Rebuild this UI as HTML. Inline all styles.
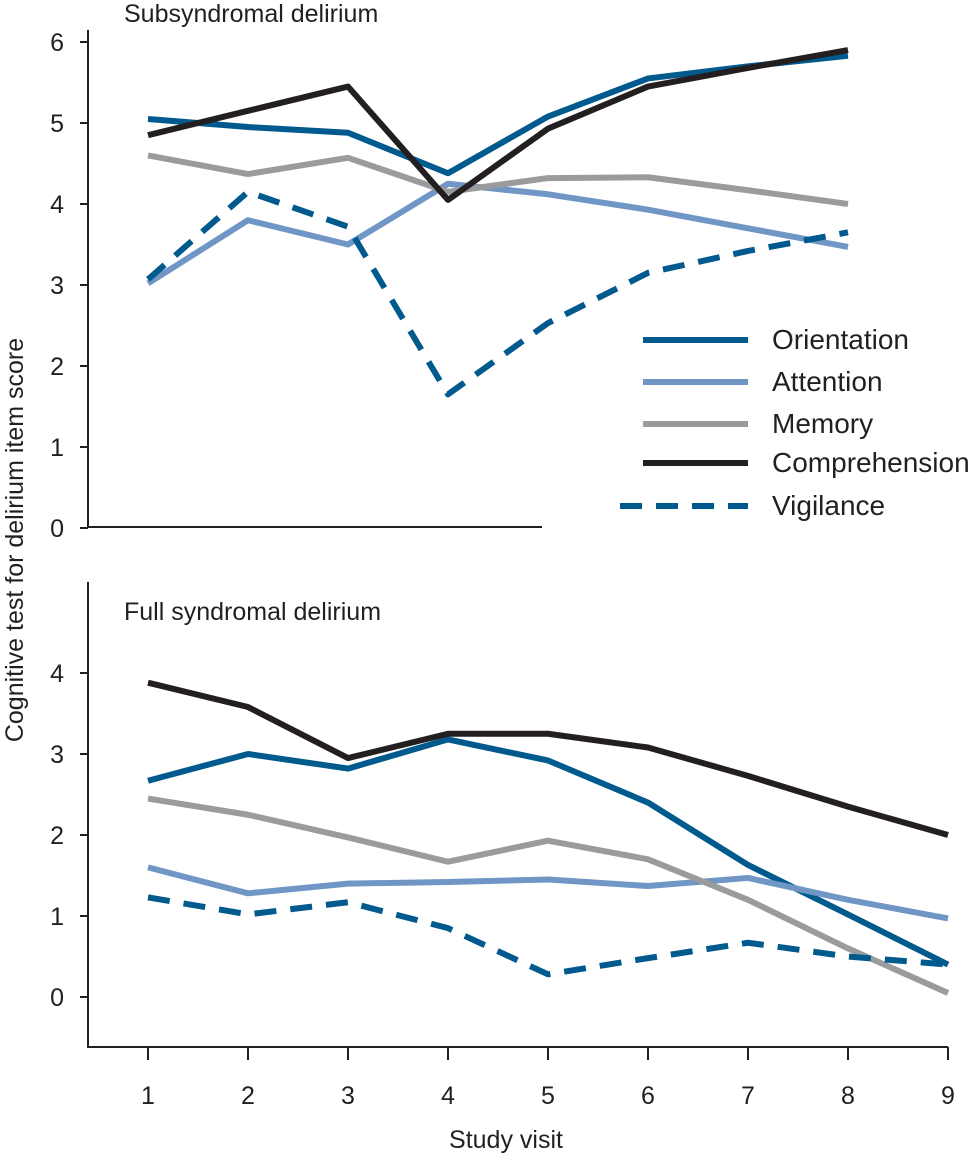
<!DOCTYPE html>
<html><head><meta charset="utf-8"><style>
body{margin:0;background:#fff}
svg{display:block}
text{font-family:"Liberation Sans",sans-serif;fill:#231f20}
</style></head><body>
<svg id="chart" width="970" height="1157"></svg>
<script>
const visits=[1,2,3,4,5,6,7,8,9];
const seriesNames=["Orientation","Attention","Memory","Comprehension","Vigilance"];
const subOrientation=[5.05,4.95,4.88,4.38,5.08,5.55,5.7,5.83];
const subAttention=[3.02,3.8,3.5,4.25,4.12,3.93,3.7,3.47];
const subMemory=[4.6,4.37,4.57,4.15,4.32,4.33,4.17,4.0];
const subComprehension=[4.85,5.15,5.45,4.05,4.93,5.45,5.68,5.9];
const subVigilance=[3.07,4.15,3.72,1.65,2.53,3.15,3.42,3.65];
const fullOrientation=[2.67,3.0,2.82,3.18,2.92,2.4,1.63,1.02,0.4];
const fullAttention=[1.6,1.28,1.4,1.42,1.45,1.37,1.47,1.2,0.97];
const fullMemory=[2.45,2.25,1.97,1.67,1.93,1.7,1.2,0.6,0.05];
const fullComprehension=[3.88,3.58,2.95,3.25,3.25,3.08,2.73,2.35,2.0];
const fullVigilance=[1.23,1.02,1.17,0.85,0.28,0.48,0.67,0.5,0.4];
const subTicks=[0,1,2,3,4,5,6];
const fullTicks=[0,1,2,3,4];

const NS="http://www.w3.org/2000/svg";
const svg=document.getElementById('chart');
const styles=[{c:"#005a8e",d:null},{c:"#7096c6",d:null},{c:"#9a9b9d",d:null},{c:"#231f20",d:null},{c:"#005a8e",d:"22 14"}];
function mk(t,a,p){const e=document.createElementNS(NS,t);for(const k in a)e.setAttribute(k,a[k]);(p||svg).appendChild(e);return e;}
const xs=v=>148+(v-1)*100;
const ySub=v=>528-81*v;
const yFull=v=>997-81*v;

function panel(name,yf,ticks,top,bottom,right,data,title,titleY){
  const g=mk('g',{});
  
  
  const ax=mk('path',{d:`M88 ${top}V${bottom}H${right}`,stroke:'#231f20','stroke-width':2,fill:'none'},g);
  
  
  ticks.forEach(t=>{
    const y=yf(t);
    const tk=mk('line',{x1:80,x2:88,y1:y,y2:y,stroke:'#231f20','stroke-width':2},g);
    
    
    const tl=mk('text',{x:64,y:y+9,'text-anchor':'end','font-size':25},g);
    tl.textContent=t;
    
    
  });
  const tt=mk('text',{x:124,y:titleY,'font-size':25},g);
  tt.textContent=title;
  
  
  data.forEach((arr,i)=>{
    const pts=arr.map((v,j)=>xs(visits[j])+','+yf(v)).join(' ');
    const a={points:pts,fill:'none',stroke:styles[i].c,'stroke-width':6,'stroke-linejoin':'round'};
    if(styles[i].d)a['stroke-dasharray']=styles[i].d;
    const pl=mk('polyline',a,g);
    
    
  });
}
panel('subsyndromal-panel',ySub,subTicks,30,527,542,[subOrientation,subAttention,subMemory,subComprehension,subVigilance],'Subsyndromal delirium',22);
panel('full-syndromal-panel',yFull,fullTicks,582,1047,948,[fullOrientation,fullAttention,fullMemory,fullComprehension,fullVigilance],'Full syndromal delirium',620);

visits.forEach(v=>{
  const tk=mk('line',{x1:xs(v),x2:xs(v),y1:1047,y2:1060,stroke:'#231f20','stroke-width':2});
  
  
  const tl=mk('text',{x:xs(v),y:1104,'text-anchor':'middle','font-size':25});
  tl.textContent=v;
  
  
});
const xt=mk('text',{x:506,y:1148,'text-anchor':'middle','font-size':25});
xt.textContent='Study visit';


const yt=mk('text',{x:0,y:0,'text-anchor':'middle','font-size':25,transform:'translate(23,540) rotate(-90)'});
yt.textContent='Cognitive test for delirium item score';



const legY=[340,382,424,463,506];
const lg=mk('g',{});


seriesNames.forEach((n,i)=>{
  const a={x1:i==4?620:643,x2:748,y1:legY[i],y2:legY[i],stroke:styles[i].c,'stroke-width':6};
  if(styles[i].d)a['stroke-dasharray']=styles[i].d;
  const l=mk('line',a,lg);
  
  
  const t=mk('text',{x:772,y:legY[i]+9,'font-size':28},lg);
  t.textContent=n;
  
  
});
</script>
</body></html>
